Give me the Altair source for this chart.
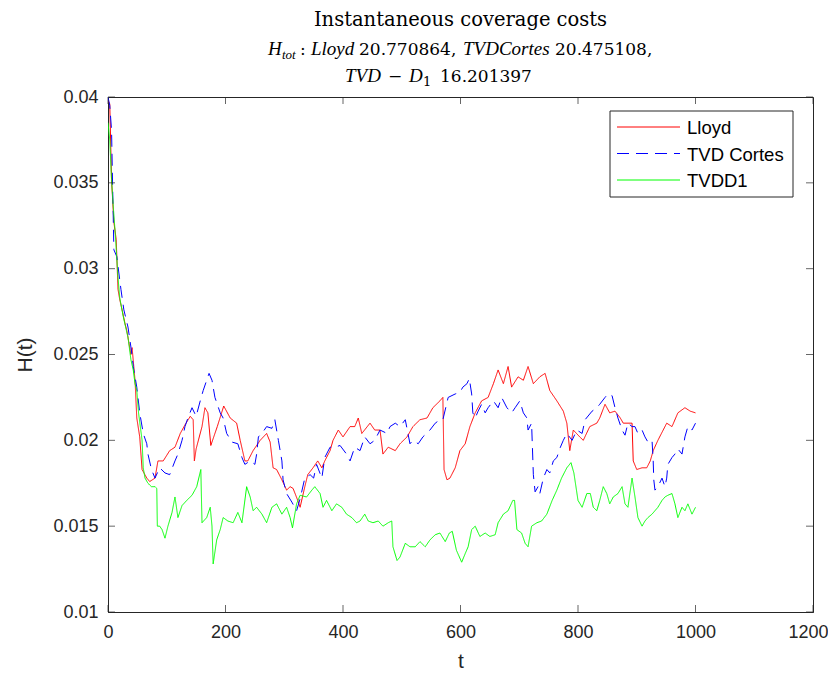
import altair as alt
import pandas as pd

# ---------------- data ----------------
lloyd_t = [0, 3, 6, 10, 14, 17, 20, 24, 29, 32, 39, 41, 46, 49, 54, 58, 66, 71, 80, 85, 94, 105, 114, 123, 131, 140, 145, 147, 150, 160, 165, 170, 175, 186, 197, 208, 219, 225, 233, 238, 247, 259, 270, 276, 281, 287, 296, 304, 310, 315, 323, 327, 335, 340, 349, 357, 364, 369, 378, 383, 392, 400, 412, 420, 426, 432, 446, 454, 463, 468, 477, 489, 497, 509, 519, 531, 543, 553, 565, 570, 572, 577, 582, 591, 599, 608, 616, 625, 636, 647, 656, 664, 673, 681, 687, 698, 707, 715, 724, 735, 744, 752, 764, 775, 781, 786, 792, 803, 809, 820, 832, 837, 846, 854, 863, 872, 877, 885, 892, 894, 900, 909, 917, 923, 928, 936, 945, 951, 960, 970, 982, 991, 1000]
lloyd_h = [0.0398, 0.0396, 0.0352, 0.0327, 0.0317, 0.0288, 0.0282, 0.0276, 0.0268, 0.0264, 0.0250, 0.0254, 0.0235, 0.0213, 0.0202, 0.0183, 0.0178, 0.0176, 0.0178, 0.0188, 0.0188, 0.0194, 0.0196, 0.0204, 0.0209, 0.0214, 0.0212, 0.0188, 0.0195, 0.0208, 0.0219, 0.0216, 0.0197, 0.0208, 0.0220, 0.0213, 0.0210, 0.0200, 0.0188, 0.0188, 0.0194, 0.0200, 0.0204, 0.0199, 0.0184, 0.0183, 0.0177, 0.0171, 0.0173, 0.0172, 0.0165, 0.0161, 0.0173, 0.0180, 0.0184, 0.0188, 0.0184, 0.0188, 0.0194, 0.0200, 0.0206, 0.0202, 0.0208, 0.0208, 0.0213, 0.0204, 0.0210, 0.0206, 0.0206, 0.0192, 0.0196, 0.0194, 0.0198, 0.0202, 0.0208, 0.0212, 0.0213, 0.0219, 0.0223, 0.0225, 0.0183, 0.0177, 0.0178, 0.0184, 0.0194, 0.0198, 0.0208, 0.0216, 0.0223, 0.0225, 0.0233, 0.0241, 0.0233, 0.0243, 0.0231, 0.0237, 0.0235, 0.0243, 0.0233, 0.0237, 0.0239, 0.0229, 0.0223, 0.0217, 0.0210, 0.0194, 0.0206, 0.0202, 0.0200, 0.0208, 0.0210, 0.0213, 0.0221, 0.0216, 0.0217, 0.0213, 0.0210, 0.0210, 0.0210, 0.0188, 0.0183, 0.0184, 0.0184, 0.0188, 0.0194, 0.0200, 0.0206, 0.0210, 0.0208, 0.0216, 0.0219, 0.0217, 0.0216]

cortes_t = [0, 3, 6, 10, 15, 22, 27, 34, 40, 43, 49, 54, 60, 66, 68, 74, 80, 88, 97, 105, 114, 119, 126, 131, 136, 143, 150, 157, 162, 168, 172, 177, 182, 185, 191, 196, 202, 211, 221, 228, 233, 242, 250, 253, 256, 264, 270, 279, 284, 290, 296, 298, 304, 313, 321, 327, 335, 344, 350, 355, 364, 369, 378, 386, 395, 406, 412, 420, 429, 437, 446, 454, 463, 475, 480, 489, 497, 506, 514, 519, 528, 536, 548, 557, 565, 570, 579, 591, 599, 604, 611, 615, 619, 621, 625, 630, 636, 642, 647, 656, 664, 670, 679, 687, 693, 701, 707, 713, 715, 721, 724, 727, 732, 735, 741, 747, 752, 758, 764, 770, 775, 781, 790, 798, 807, 812, 824, 832, 837, 846, 851, 858, 863, 868, 875, 880, 885, 892, 897, 902, 909, 914, 919, 926, 928, 929, 931, 936, 943, 948, 951, 953, 960, 965, 970, 977, 982, 987, 994, 1000]
cortes_h = [0.0400, 0.0395, 0.0381, 0.0311, 0.0307, 0.0288, 0.0276, 0.0266, 0.0252, 0.0243, 0.0231, 0.0216, 0.0204, 0.0198, 0.0192, 0.0183, 0.0178, 0.0184, 0.0181, 0.0180, 0.0188, 0.0192, 0.0200, 0.0208, 0.0213, 0.0219, 0.0214, 0.0223, 0.0229, 0.0235, 0.0239, 0.0235, 0.0225, 0.0222, 0.0216, 0.0213, 0.0204, 0.0199, 0.0198, 0.0190, 0.0186, 0.0188, 0.0186, 0.0192, 0.0202, 0.0205, 0.0208, 0.0207, 0.0212, 0.0200, 0.0188, 0.0177, 0.0169, 0.0164, 0.0159, 0.0166, 0.0178, 0.0180, 0.0178, 0.0186, 0.0178, 0.0190, 0.0196, 0.0196, 0.0197, 0.0192, 0.0188, 0.0196, 0.0194, 0.0202, 0.0198, 0.0200, 0.0206, 0.0204, 0.0208, 0.0210, 0.0208, 0.0212, 0.0198, 0.0200, 0.0198, 0.0202, 0.0206, 0.0210, 0.0212, 0.0212, 0.0225, 0.0227, 0.0228, 0.0231, 0.0233, 0.0236, 0.0227, 0.0216, 0.0213, 0.0217, 0.0221, 0.0216, 0.0219, 0.0223, 0.0219, 0.0225, 0.0219, 0.0216, 0.0219, 0.0223, 0.0216, 0.0213, 0.0206, 0.0210, 0.0180, 0.0170, 0.0173, 0.0169, 0.0178, 0.0183, 0.0181, 0.0188, 0.0190, 0.0196, 0.0200, 0.0204, 0.0200, 0.0206, 0.0204, 0.0212, 0.0217, 0.0219, 0.0221, 0.0225, 0.0227, 0.0226, 0.0219, 0.0213, 0.0206, 0.0203, 0.0210, 0.0208, 0.0208, 0.0204, 0.0206, 0.0202, 0.0199, 0.0200, 0.0188, 0.0177, 0.0171, 0.0173, 0.0178, 0.0173, 0.0178, 0.0186, 0.0190, 0.0192, 0.0195, 0.0192, 0.0202, 0.0208, 0.0206, 0.0210]

tvdd1_t = [0, 3, 6, 9, 12, 17, 20, 26, 34, 39, 43, 46, 49, 52, 58, 60, 63, 68, 74, 80, 83, 84, 88, 92, 97, 102, 109, 114, 119, 126, 134, 143, 151, 158, 160, 168, 174, 177, 179, 185, 191, 196, 204, 213, 221, 228, 236, 242, 247, 253, 262, 270, 279, 287, 296, 304, 310, 314, 321, 327, 338, 347, 352, 361, 366, 372, 381, 389, 398, 406, 415, 423, 429, 437, 443, 451, 460, 468, 477, 483, 485, 492, 497, 506, 514, 523, 531, 540, 548, 557, 565, 574, 581, 586, 593, 602, 608, 613, 619, 625, 633, 642, 650, 659, 664, 673, 681, 689, 692, 696, 704, 710, 715, 721, 730, 738, 747, 756, 764, 772, 781, 788, 793, 800, 807, 815, 821, 826, 832, 837, 843, 849, 854, 860, 868, 875, 880, 885, 892, 897, 902, 909, 914, 919, 926, 931, 936, 943, 948, 953, 960, 965, 970, 977, 982, 987, 994, 1000]
tvdd1_h = [0.0385, 0.0375, 0.0352, 0.0336, 0.0322, 0.0295, 0.0283, 0.0272, 0.0260, 0.0247, 0.0241, 0.0233, 0.0229, 0.0216, 0.0200, 0.0184, 0.0178, 0.0175, 0.0173, 0.0173, 0.0172, 0.0150, 0.0150, 0.0148, 0.0143, 0.0150, 0.0158, 0.0167, 0.0155, 0.0162, 0.0165, 0.0168, 0.0173, 0.0183, 0.0152, 0.0155, 0.0161, 0.0150, 0.0128, 0.0142, 0.0148, 0.0155, 0.0153, 0.0152, 0.0158, 0.0152, 0.0173, 0.0167, 0.0159, 0.0161, 0.0157, 0.0152, 0.0161, 0.0163, 0.0157, 0.0161, 0.0155, 0.0149, 0.0163, 0.0168, 0.0167, 0.0171, 0.0173, 0.0169, 0.0161, 0.0165, 0.0159, 0.0163, 0.0161, 0.0157, 0.0155, 0.0152, 0.0153, 0.0157, 0.0153, 0.0152, 0.0153, 0.0150, 0.0152, 0.0153, 0.0138, 0.0130, 0.0132, 0.0140, 0.0138, 0.0138, 0.0141, 0.0138, 0.0142, 0.0145, 0.0146, 0.0141, 0.0146, 0.0147, 0.0136, 0.0129, 0.0134, 0.0138, 0.0148, 0.0150, 0.0144, 0.0146, 0.0144, 0.0145, 0.0152, 0.0157, 0.0159, 0.0165, 0.0165, 0.0148, 0.0146, 0.0140, 0.0138, 0.0150, 0.0152, 0.0153, 0.0157, 0.0165, 0.0171, 0.0178, 0.0184, 0.0187, 0.0181, 0.0165, 0.0161, 0.0169, 0.0169, 0.0161, 0.0159, 0.0165, 0.0173, 0.0169, 0.0163, 0.0167, 0.0169, 0.0173, 0.0163, 0.0161, 0.0178, 0.0167, 0.0155, 0.0150, 0.0153, 0.0155, 0.0157, 0.0159, 0.0161, 0.0165, 0.0167, 0.0168, 0.0169, 0.0163, 0.0155, 0.0161, 0.0159, 0.0163, 0.0157, 0.0161]

series_names = ["Lloyd", "TVD Cortes", "TVDD1"]
series_colors = ["#ff0000", "#0000ff", "#00ff00"]
series_dash = [[1, 0], [12, 7], [1, 0]]
x_ticks = [0, 200, 400, 600, 800, 1000, 1200]
y_ticks = [0.01, 0.015, 0.02, 0.025, 0.03, 0.035, 0.04]

# ---------------- build table ----------------
frames = []
for name, ts, hs in zip(series_names, [lloyd_t, cortes_t, tvdd1_t], [lloyd_h, cortes_h, tvdd1_h]):
    frames.append(pd.DataFrame({"t": ts, "H": hs, "series": name}))
df = pd.concat(frames, ignore_index=True)

W, H = 705, 515
AX = "#262626"
FONT = "Liberation Sans"
SERIF = "DejaVu Serif"
MATH = "Liberation Serif"

xscale = alt.Scale(domain=[0, 1200], nice=False)
yscale = alt.Scale(domain=[0.01, 0.04], nice=False, zero=False)

last_x = x_ticks[-1]
lines = alt.Chart(df).mark_line(strokeWidth=1, clip=True).encode(
    x=alt.X("t:Q", scale=xscale,
            axis=alt.Axis(values=x_ticks, title="t", format="d", tickSize=0, labelPadding=11,
                          labelFlush=False, titlePadding=9, grid=False,
                          labelAlign={"condition": {"test": f"datum.value == {last_x}", "value": "right"},
                                      "value": "center"},
                          labelOffset={"condition": {"test": f"datum.value == {last_x}", "value": 15},
                                       "value": 0})),
    y=alt.Y("H:Q", scale=yscale,
            axis=alt.Axis(values=y_ticks, title="H(t)", format="~g", tickSize=0,
                          labelFlush=False, labelPadding=10, titlePadding=17, grid=False)),
    color=alt.Color("series:N", scale=alt.Scale(domain=series_names, range=series_colors),
                    legend=None),
    strokeDash=alt.StrokeDash("series:N",
                              scale=alt.Scale(domain=series_names, range=series_dash),
                              legend=None),
)

# inward tick marks on all four sides
xt = pd.DataFrame({"v": x_ticks})
yt = pd.DataFrame({"v": y_ticks})
tick_b = alt.Chart(xt).mark_tick(color=AX, orient="vertical", size=7, thickness=1).encode(
    x="v:Q", y=alt.value(H - 3.5))
tick_t = alt.Chart(xt).mark_tick(color=AX, orient="vertical", size=7, thickness=1).encode(
    x="v:Q", y=alt.value(3.5))
tick_l = alt.Chart(yt).mark_tick(color=AX, orient="horizontal", size=7, thickness=1).encode(
    y="v:Q", x=alt.value(3.5))
tick_r = alt.Chart(yt).mark_tick(color=AX, orient="horizontal", size=7, thickness=1).encode(
    y="v:Q", x=alt.value(W - 3.5))

one = pd.DataFrame({"a": [0]})

# ---------------- legend (drawn by hand, MATLAB style) ----------------
legend_layers = [
    alt.Chart(one).mark_rect(fill="white", stroke=AX, strokeWidth=1).encode(
        x=alt.value(502), x2=alt.value(685), y=alt.value(14), y2=alt.value(100))
]
row_y = [30, 56.5, 83]
for name, col, dash, ry in zip(series_names, series_colors, series_dash, row_y):
    legend_layers.append(
        alt.Chart(one).mark_rule(color=col, strokeWidth=1, strokeDash=dash).encode(
            x=alt.value(509), x2=alt.value(572), y=alt.value(ry)))
    legend_layers.append(
        alt.Chart(one).mark_text(font=FONT, fontSize=18.5, align="left", baseline="middle",
                                 color="#000000").encode(
            x=alt.value(579), y=alt.value(ry + 1), text=alt.value(name)))

# ---------------- title pieces (LaTeX-like mixed styles) ----------------
def piece(txt, x, y, size=17, italic=False, align="left", font=SERIF):
    return alt.Chart(one).mark_text(font=font, fontSize=size, fontStyle="italic" if italic else "normal",
                                    align=align, baseline="alphabetic", color="#000000").encode(
        x=alt.value(x - 108), y=alt.value(y), text=alt.value(txt))

title_layers = [
    piece("Instantaneous coverage costs", 460.5, -71, size=19.5, align="center"),
    # line 2
    piece("H", 268, -42, size=19, italic=True, font=MATH),
    piece("tot", 282, -38, size=13, italic=True, font=MATH),
    piece(":", 300, -42),
    piece("Lloyd", 311, -42, size=19, italic=True, font=MATH),
    piece("20.770864,", 359, -42),
    piece("TVDCortes", 463, -42, size=19, italic=True, font=MATH),
    piece("20.475108,", 555, -42),
    # line 3
    piece("TVD", 345, -15, size=19, italic=True, font=MATH),
    piece("\u2212", 388, -15),
    piece("D", 409, -15, size=19, italic=True, font=MATH),
    piece("1", 423, -11, size=13),
    piece("16.201397", 440, -15),
]

chart = alt.layer(lines, tick_b, tick_t, tick_l, tick_r, *legend_layers, *title_layers).properties(
    width=W, height=H,
    autosize=alt.AutoSizeParams(type="none"),
    padding={"left": 100, "top": 89, "right": 15, "bottom": 62},
).configure_view(stroke=AX, strokeWidth=1).configure_axis(
    labelFont=FONT, labelFontSize=18, labelColor=AX, titleFont=FONT, titleFontSize=21,
    titleColor=AX, titleFontWeight="normal", domainColor=AX, domainWidth=1,
)

chart.save("out.html", embed_options={"renderer": "svg", "actions": False})
